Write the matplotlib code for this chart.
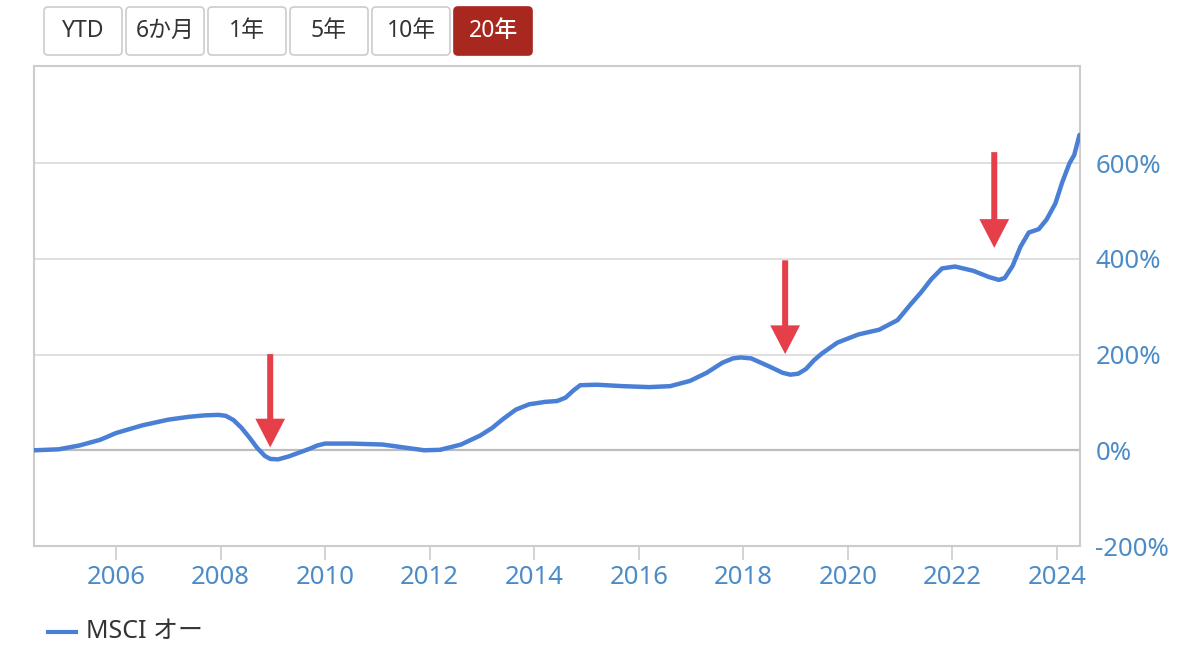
import numpy as np
import matplotlib
matplotlib.use("Agg")
import matplotlib.pyplot as plt
from matplotlib.patches import FancyBboxPatch, FancyArrow

plt.rcParams['font.family'] = ['Noto Sans', 'Noto Sans CJK JP', 'DejaVu Sans']

# decimal year vs. cumulative return (%)
years = [2004.43, 2004.9, 2005.3, 2005.7, 2006.0, 2006.5, 2007.0, 2007.4, 2007.7, 2007.96,
         2008.1, 2008.25, 2008.4, 2008.55, 2008.7, 2008.85, 2008.95, 2009.1, 2009.3,
         2009.5, 2009.7, 2009.85, 2010.0, 2010.5, 2011.1, 2011.5, 2011.9, 2012.2,
         2012.6, 2012.97, 2013.2, 2013.4, 2013.65, 2013.9, 2014.2, 2014.44, 2014.6,
         2014.75, 2014.88, 2015.2, 2015.7, 2016.2, 2016.6, 2016.98, 2017.3, 2017.6,
         2017.8, 2017.95, 2018.15, 2018.5, 2018.75, 2018.9, 2019.05, 2019.2, 2019.35,
         2019.5, 2019.8, 2020.2, 2020.6, 2020.95, 2021.2, 2021.4, 2021.6, 2021.8,
         2022.05, 2022.4, 2022.7, 2022.89, 2023.0, 2023.15, 2023.3, 2023.46, 2023.65,
         2023.8, 2023.97, 2024.1, 2024.24, 2024.33, 2024.43]
returns = [0, 2, 10, 22, 36, 52, 64, 70, 73, 74,
           72, 63, 47, 27, 5, -12, -18, -19, -13,
           -5, 3, 10, 14, 14, 12, 6, 0, 1,
           12, 31, 47, 65, 85, 96, 101, 103, 110,
           125, 136, 137, 134, 132, 134, 145, 162, 183,
           192, 194, 192, 175, 162, 158, 160, 170, 188,
           202, 225, 242, 252, 272, 305, 330, 358, 380,
           384, 375, 362, 356, 360, 385, 425, 455, 462,
           482, 516, 560, 600, 617, 659]

x_ticks = [2006, 2008, 2010, 2012, 2014, 2016, 2018, 2020, 2022, 2024]
y_ticks = [-200, 0, 200, 400, 600]

# red arrows: x, tail, tip
arrow_x = [2008.95, 2018.8, 2022.8]
arrow_tail = [201, 397, 623]
arrow_tip = [6, 201, 423]

buttons = ['YTD', '6か月', '1年', '5年', '10年', '20年']
active_button = '20年'
series_name = 'MSCI オー'

line_color = '#4a7fd6'
tick_color = '#4b8bc8'
red = '#e5404a'

fig = plt.figure(figsize=(12, 6.53), dpi=100)
ax = fig.add_axes([34 / 1200, 1 - 546 / 653, (1080 - 34) / 1200, (546 - 66) / 653])

ax.plot(years, returns, color=line_color, lw=3.2, solid_capstyle='round',
        solid_joinstyle='round', zorder=3)
ax.set_xlim(2004.432, 2024.44)
ax.set_ylim(-200, 803)

ax.set_xticks(x_ticks)
ax.set_xticklabels([str(t) for t in x_ticks])
ax.set_yticks(y_ticks)
ax.set_yticklabels([f'{t}%' for t in y_ticks])
ax.yaxis.tick_right()
ax.tick_params(axis='x', colors='#cccccc', labelcolor=tick_color, labelsize=18.5,
               length=10, width=1.2, pad=4)
ax.tick_params(axis='y', length=0, labelcolor=tick_color, labelsize=18.5, pad=11)

ax.grid(axis='y', color='#d9d9d9', lw=1.2)
ax.axhline(0, color='#bdbdbd', lw=1.6, zorder=2)
for s in ax.spines.values():
    s.set_color('#cccccc')
    s.set_linewidth(1.5)

for xa, yt, yh in zip(arrow_x, arrow_tail, arrow_tip):
    ax.add_patch(FancyArrow(xa, yt, 0, yh - yt, width=0.115, head_width=0.57,
                            head_length=60, length_includes_head=True,
                            color=red, lw=0, zorder=4))

# overlay in pixel coordinates for buttons and legend
ov = fig.add_axes([0, 0, 1, 1])
ov.set_xlim(0, 1200)
ov.set_ylim(653, 0)
ov.axis('off')
ov.patch.set_visible(False)

bx = 44
for b in buttons:
    active = b == active_button
    ov.add_patch(FancyBboxPatch((bx, 7), 78, 48, boxstyle='round,pad=0,rounding_size=4',
                                fc='#a8281f' if active else 'white',
                                ec='#a8281f' if active else '#cccccc', lw=1.2))
    ov.text(bx + 39, 31, b, ha='center', va='center', fontsize=16.5,
            color='white' if active else '#333333',
            fontweight='medium' if active else 'normal')
    bx += 82

ov.plot([48, 76], [632, 632], color=line_color, lw=3)
ov.text(86, 632, series_name, va='center', ha='left', fontsize=18, color='#333333')

fig.savefig('out.png', dpi=100)
